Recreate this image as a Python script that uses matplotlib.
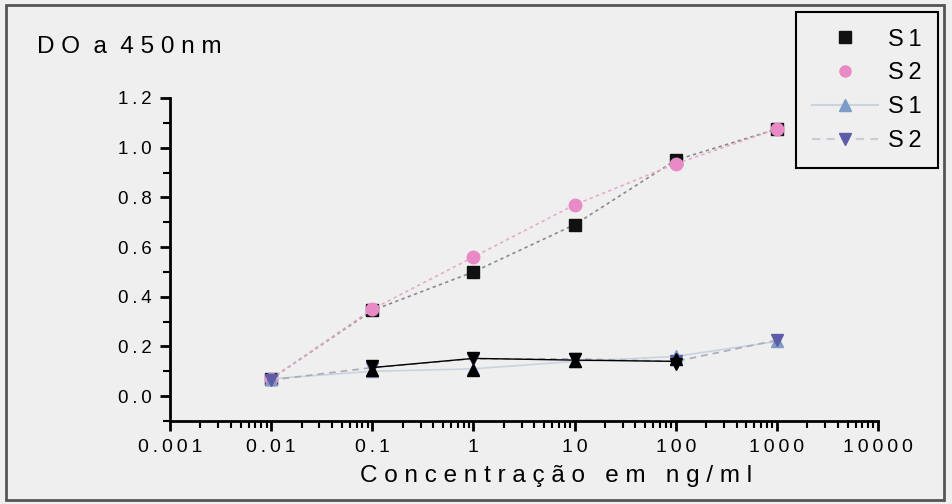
import matplotlib
matplotlib.use("Agg")
import matplotlib.pyplot as plt
from matplotlib.lines import Line2D
from matplotlib.patches import Rectangle
from matplotlib.ticker import LogLocator, FixedLocator, MultipleLocator

plt.rcParams['font.family'] = ['Liberation Sans', 'DejaVu Sans']

# ---- data ----
conc = [0.01, 0.1, 1, 10, 100, 1000]
s1_upper = [0.07, 0.345, 0.50, 0.69, 0.95, 1.075]      # black squares
s2_upper = [0.07, 0.35, 0.56, 0.77, 0.935, 1.075]      # pink circles
s1_lower = [0.07, 0.10, 0.11, 0.14, 0.16, 0.22]        # blue up-triangles
s2_lower = [0.065, 0.115, 0.15, 0.15, 0.14, 0.225]     # purple down-triangles
# black overlay marks (overlapping points rendered black)
conc_black = [0.1, 1, 10, 100]
black_down = [0.122, 0.155, 0.148, 0.13]
black_up = [0.104, 0.105, 0.142, 0.15]
black_line = [0.115, 0.152, 0.145, 0.14]

xtick_vals = [0.001, 0.01, 0.1, 1, 10, 100, 1000, 10000]
xtick_labels = ["0.001", "0.01", "0.1", "1", "10", "100", "1000", "10000"]
ytick_vals = [0.0, 0.2, 0.4, 0.6, 0.8, 1.0, 1.2]
ytick_labels = ["0.0", "0.2", "0.4", "0.6", "0.8", "1.0", "1.2"]
legend_labels = ["S1", "S2", "S1", "S2"]

def spaced(s, sep="\u2009"):
    return sep.join(list(s))

BG = "#efefef"
W, H = 953, 504
fig = plt.figure(figsize=(W / 100, H / 100), dpi=100, facecolor=BG)
ax = fig.add_axes([170 / W, 1 - 421 / H, (878 - 170) / W, (421 - 98) / H])
ax.set_facecolor(BG)

ax.set_xscale("log")
ax.set_xlim(0.001, 10000)
ax.set_ylim(-0.1, 1.2)

# upper series
ax.plot(conc, s1_upper, linestyle=(0, (2, 2)), color="#8a8a8a", lw=1.2,
        marker="s", markersize=9, markerfacecolor="#111111", markeredgecolor="#111111", zorder=3)
ax.plot(conc, s2_upper, linestyle=(0, (2, 2)), color="#e6aacb", lw=1.2,
        marker="o", markersize=9, markerfacecolor="#e88ac6", markeredgecolor="#e88ac6", zorder=3)
# lower series
ax.plot(conc, s1_lower, linestyle="-", color="#c8d4e0", lw=1.2,
        marker="^", markersize=9, markerfacecolor="#7e9cc4", markeredgecolor="#7e9cc4", zorder=3)
ax.plot(conc, s2_lower, linestyle=(0, (4, 3)), color="#a8acb8", lw=1.2,
        marker="v", markersize=9, markerfacecolor="#5c5ca8", markeredgecolor="#5c5ca8", zorder=3)
# black overlay
ax.plot(conc_black, black_line, color="black", lw=1.0, zorder=4)
ax.plot(conc_black, black_down, linestyle="none", marker="v", markersize=9, color="black", zorder=5)
ax.plot(conc_black, black_up, linestyle="none", marker="^", markersize=9, color="black", zorder=5)

# axes styling
for s in ["top", "right"]:
    ax.spines[s].set_visible(False)
ax.spines["left"].set_linewidth(2)
ax.spines["bottom"].set_linewidth(2)
ax.spines["left"].set_bounds(-0.1, 1.2)

ax.xaxis.set_major_locator(FixedLocator(xtick_vals))
ax.xaxis.set_minor_locator(LogLocator(base=10, subs=range(2, 10)))
ax.yaxis.set_major_locator(FixedLocator(ytick_vals))
ax.yaxis.set_minor_locator(MultipleLocator(0.1))

ax.tick_params(axis="both", which="major", direction="out", length=7, width=2,
               colors="black", pad=6)
ax.tick_params(axis="both", which="minor", direction="out", length=5, width=1.5)

ax.set_xticklabels([spaced(t) for t in xtick_labels], fontsize=14)
ax.set_yticklabels([spaced(t) for t in ytick_labels], fontsize=13.5)

fig.text(37 / W, 1 - 47 / H, spaced("DO", " ") + "  a  " + spaced("450nm", " "),
         fontsize=17.5, va="center", ha="left")
fig.text(556 / W, 1 - 476 / H,
         spaced("Concentração", " ") + "   " + spaced("em", " ") + "   " + spaced("ng/ml", " "),
         fontsize=17.5, va="center", ha="center")

# legend
handles = [
    Line2D([], [], linestyle="none", marker="s", markersize=8, color="#111111"),
    Line2D([], [], linestyle="none", marker="o", markersize=8, color="#e88ac6"),
    Line2D([], [], linestyle="-", color="#c8d4e0", marker="^", markersize=9,
           markerfacecolor="#7e9cc4", markeredgecolor="#7e9cc4"),
    Line2D([], [], linestyle=(0, (4, 3)), color="#c8ccd4", marker="v", markersize=9,
           markerfacecolor="#5c5ca8", markeredgecolor="#5c5ca8"),
]
leg = fig.legend(handles, [spaced(l) for l in legend_labels],
                 loc="upper right", bbox_to_anchor=(938 / W, 1 - 12 / H),
                 frameon=True, fancybox=False, framealpha=1, facecolor=BG,
                 edgecolor="black", fontsize=17, handlelength=2.8, labelspacing=0.5,
                 borderpad=0.7, handletextpad=0.4, borderaxespad=0)
leg.get_frame().set_linewidth(1.5)

# outer border
fig.patches.append(Rectangle((6 / W, 4 / H), (944 - 6) / W, (499 - 4) / H,
                             transform=fig.transFigure, fill=False,
                             edgecolor="#555555", linewidth=2))

fig.savefig("out.png", dpi=100, facecolor=BG)
